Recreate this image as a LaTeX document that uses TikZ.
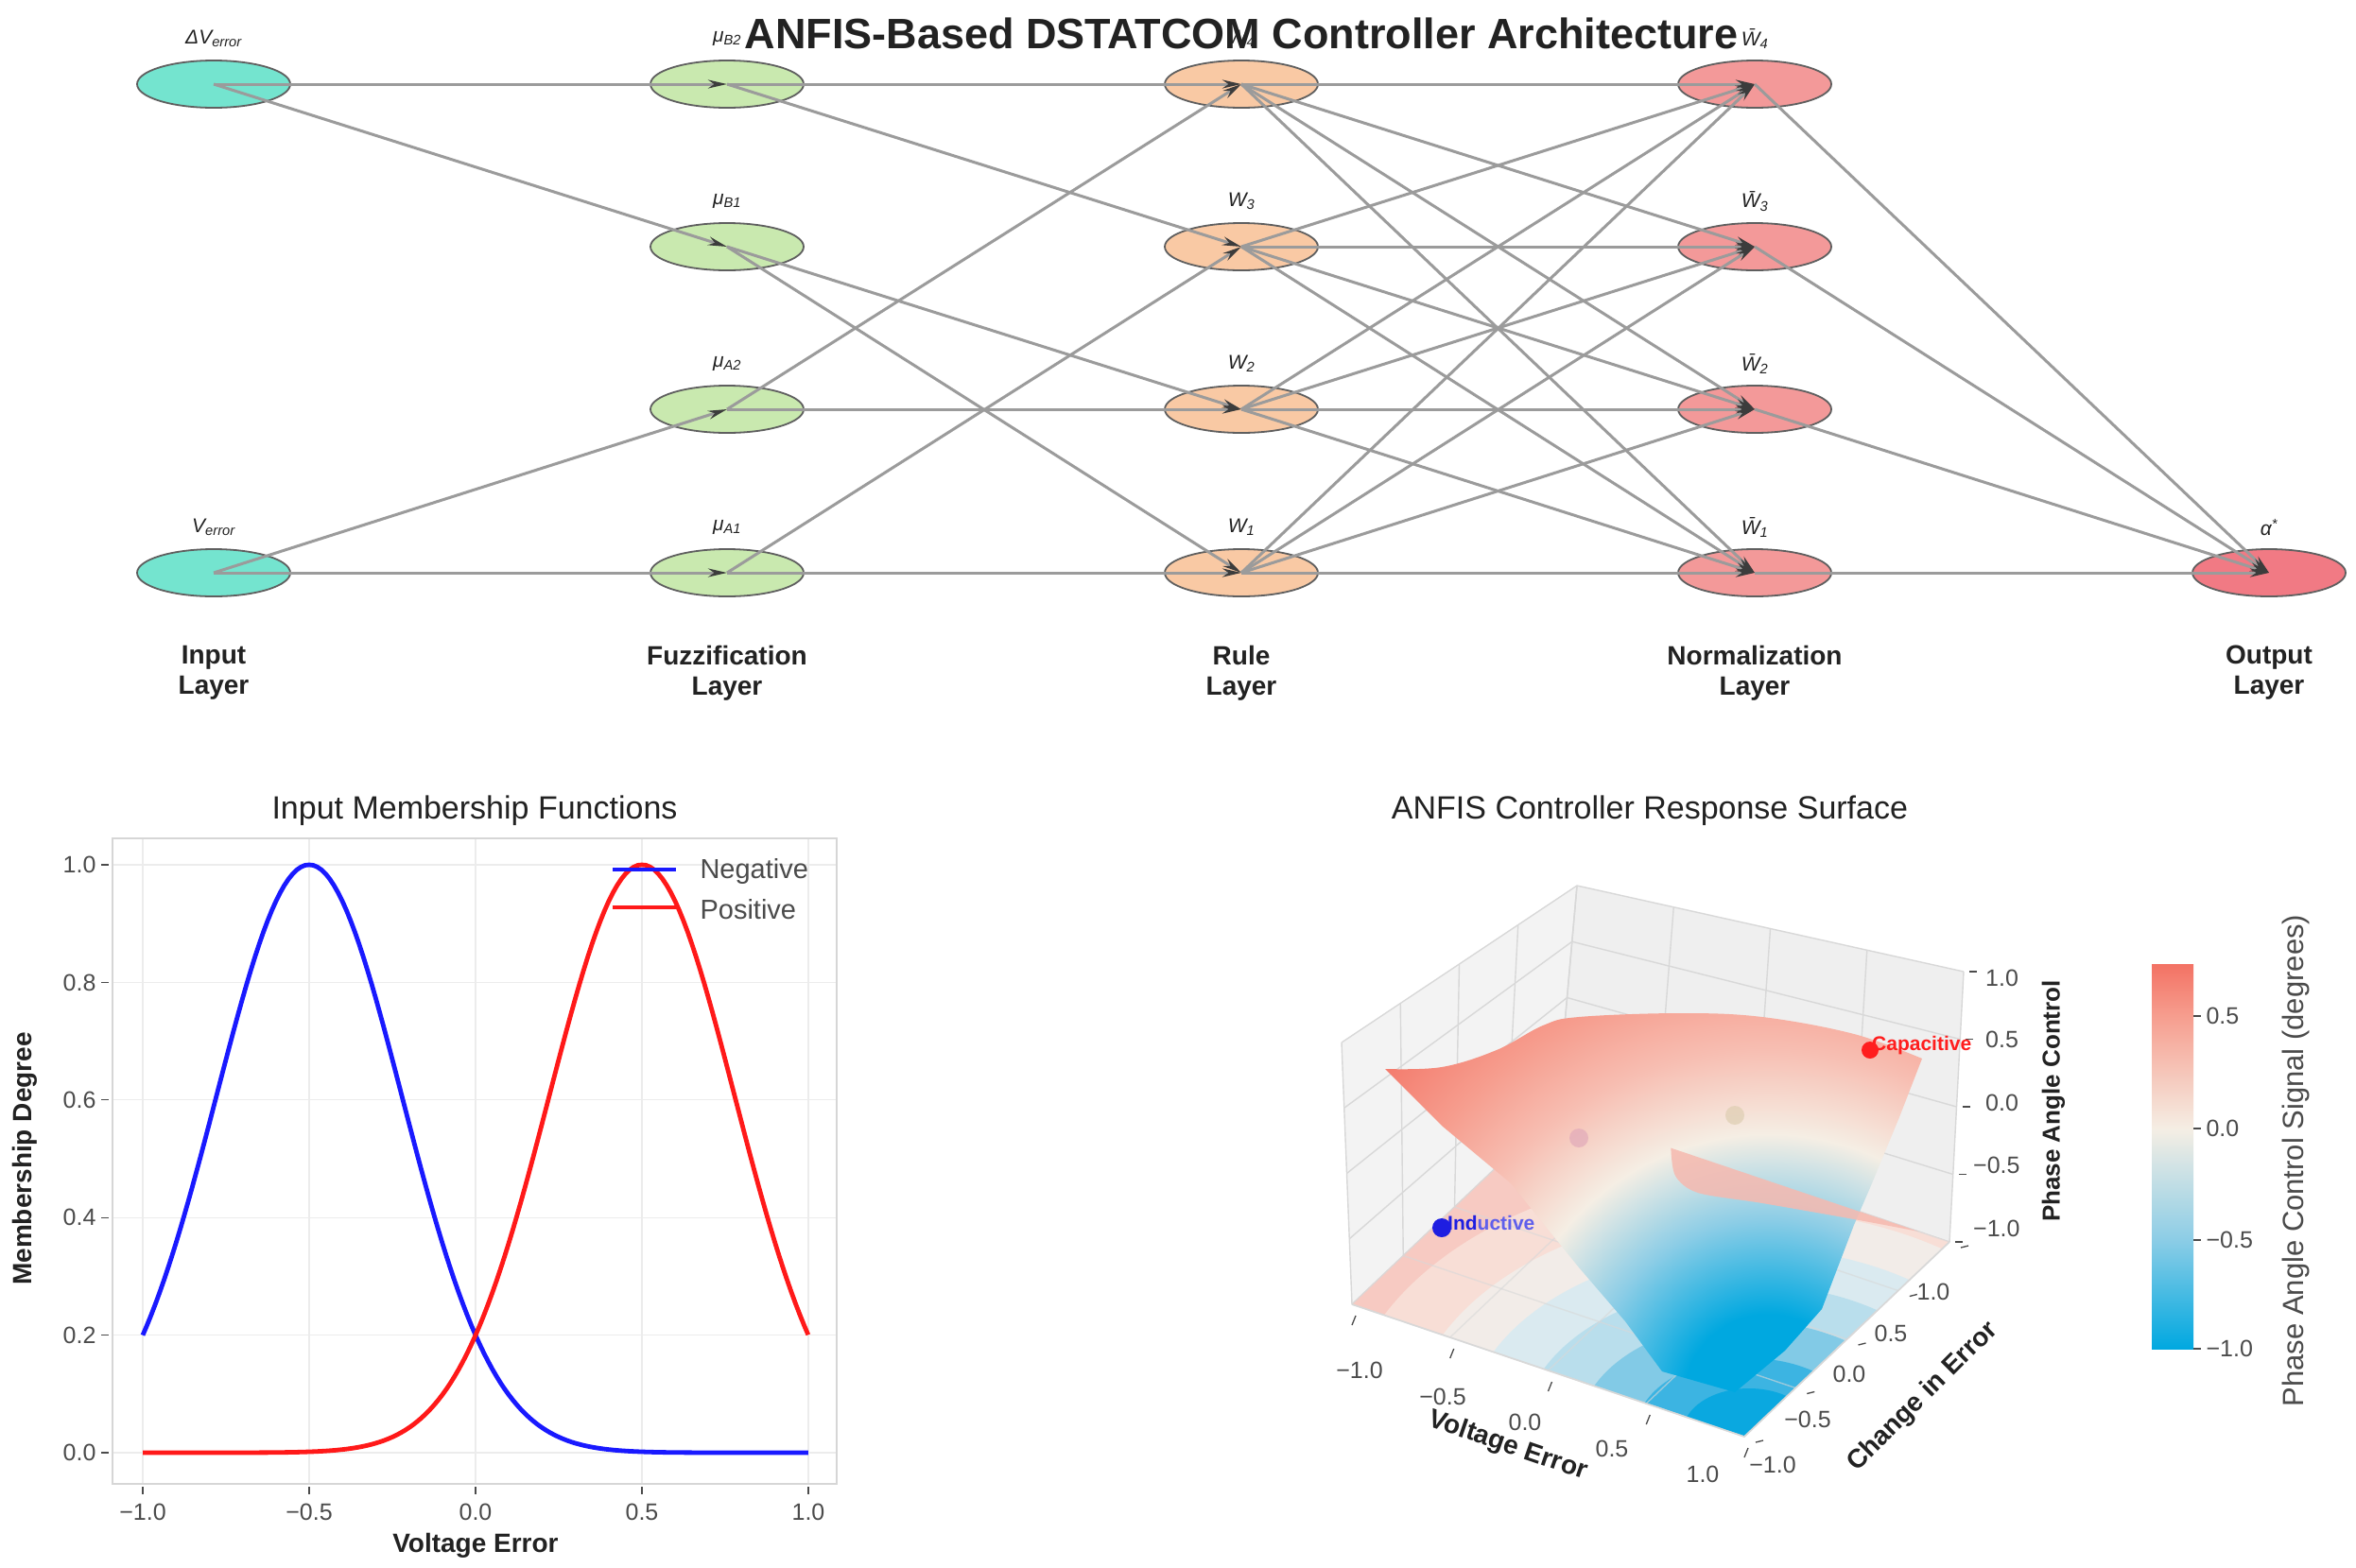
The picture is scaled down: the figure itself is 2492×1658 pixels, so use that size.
\documentclass[tikz,border=0pt]{standalone}
\usepackage{fontspec}
\setmainfont{Liberation Sans}
\usetikzlibrary{arrows.meta,calc,shapes.geometric}

\definecolor{inC}{RGB}{92,224,199}
\definecolor{fzC}{RGB}{192,230,161}
\definecolor{ruC}{RGB}{249,192,149}
\definecolor{noC}{RGB}{242,136,136}
\definecolor{ouC}{RGB}{239,99,111}
\definecolor{edgeC}{RGB}{155,155,155}
\definecolor{tipC}{RGB}{60,60,60}
\definecolor{ndBorder}{RGB}{95,95,95}
\definecolor{txtD}{RGB}{34,34,34}
\definecolor{txtG}{RGB}{75,75,75}
\definecolor{gridL}{RGB}{236,236,236}
\definecolor{frameL}{RGB}{214,214,214}
\definecolor{mfBlue}{RGB}{25,25,255}
\definecolor{mfRed}{RGB}{255,25,25}
\definecolor{paneA}{RGB}{243,243,243}
\definecolor{paneB}{RGB}{239,239,239}
\definecolor{paneC}{RGB}{236,236,236}
\definecolor{paneGrid}{RGB}{216,216,216}
\definecolor{cmB}{RGB}{0,168,224}
\definecolor{cmLB}{RGB}{140,205,230}
\definecolor{cmC}{RGB}{245,238,228}
\definecolor{cmP}{RGB}{247,190,178}
\definecolor{cmS}{RGB}{246,157,142}
\definecolor{cmR}{RGB}{243,114,100}
\definecolor{flBase}{RGB}{247,202,194}
\definecolor{flA}{RGB}{248,222,214}
\definecolor{flB}{RGB}{242,236,232}
\definecolor{flC}{RGB}{218,234,240}
\definecolor{flD}{RGB}{185,222,236}
\definecolor{flE}{RGB}{130,202,230}
\definecolor{flF}{RGB}{60,180,226}
\definecolor{flG}{RGB}{10,168,224}
\definecolor{tongueC}{RGB}{246,185,175}
\definecolor{dotA}{RGB}{226,170,186}
\definecolor{dotB}{RGB}{222,206,178}
\definecolor{indC}{RGB}{30,30,225}
\definecolor{indL}{RGB}{95,95,235}
\definecolor{capC}{RGB}{255,30,30}

\pgfdeclareradialshading{surfsh}{\pgfpoint{0bp}{0bp}}{color(0bp)=(cmB); color(4bp)=(cmB); color(8.5bp)=(cmLB); color(12.5bp)=(cmC); color(16.5bp)=(cmP); color(20bp)=(cmS); color(25bp)=(cmR); color(50bp)=(cmR)}
\pgfdeclareverticalshading{cbarsh}{100bp}{color(0bp)=(cmB); color(25bp)=(cmB); color(39.2bp)=(cmLB); color(53.6bp)=(cmC); color(68.3bp)=(cmS); color(75bp)=(cmR); color(100bp)=(cmR)}

\tikzset{
  nd/.style={ellipse, minimum width=162pt, minimum height=50pt, inner sep=0pt, draw=ndBorder, line width=1.8pt, fill opacity=0.85},
  ed/.style={draw=edgeC, line width=3pt, -{Stealth[length=20pt,width=9pt,color=tipC]}},
  nlab/.style={font=\fontsize{21}{24}\selectfont\itshape, text=txtD},
  layerlab/.style={font=\fontsize{28}{32}\selectfont\bfseries, text=txtD, align=center},
  tick/.style={font=\fontsize{25}{28}\selectfont, text=txtG},
  axlab/.style={font=\fontsize{28}{32}\selectfont\bfseries, text=txtD},
  ptitle/.style={font=\fontsize{34}{38}\selectfont, text=txtD},
  pgrid/.style={draw=paneGrid, line width=1.4pt},
  tmark/.style={draw=txtG, line width=1.3pt},
}

\begin{document}
\begin{tikzpicture}[x=1pt,y=-1pt]
\useasboundingbox (0,0) rectangle (2492,1658);
\fill[white] (0,0) rectangle (2492,1658);

% ================= ANFIS network =================
\node[nd, fill=inC] (i1) at (226,89) {};
\node[nd, fill=inC] (i2) at (226,606) {};
\node[nd, fill=fzC] (f1) at (769,89) {};
\node[nd, fill=fzC] (f2) at (769,261) {};
\node[nd, fill=fzC] (f3) at (769,433) {};
\node[nd, fill=fzC] (f4) at (769,606) {};
\node[nd, fill=ruC] (r1) at (1313,89) {};
\node[nd, fill=ruC] (r2) at (1313,261) {};
\node[nd, fill=ruC] (r3) at (1313,433) {};
\node[nd, fill=ruC] (r4) at (1313,606) {};
\node[nd, fill=noC] (n1) at (1856,89) {};
\node[nd, fill=noC] (n2) at (1856,261) {};
\node[nd, fill=noC] (n3) at (1856,433) {};
\node[nd, fill=noC] (n4) at (1856,606) {};
\node[nd, fill=ouC] (o1) at (2400,606) {};

\foreach \sa/\ta in {i1/f1,i1/f2,i2/f3,i2/f4,f1/r1,f1/r2,f2/r3,f2/r4,f3/r1,f3/r3,f4/r2,f4/r4}
  \draw[ed] (\sa.center) -- (\ta.center);
\foreach \sa in {r1,r2,r3,r4}
  \foreach \ta in {n1,n2,n3,n4}
    \draw[ed] (\sa.center) -- (\ta.center);
\foreach \sa in {n1,n2,n3,n4}
  \draw[ed] (\sa.center) -- (o1.center);

\node[nlab] (i1l) at (226,41) {ΔV\textsubscript{error}};
\node[nlab] (i2l) at (226,558) {V\textsubscript{error}};
\node[nlab] (f1l) at (769,41) {μ\textsubscript{B2}};
\node[nlab] (f2l) at (769,213) {μ\textsubscript{B1}};
\node[nlab] (f3l) at (769,385) {μ\textsubscript{A2}};
\node[nlab] (f4l) at (769,558) {μ\textsubscript{A1}};
\node[nlab] (r1l) at (1313,41) {W\textsubscript{4}};
\node[nlab] (r2l) at (1313,213) {W\textsubscript{3}};
\node[nlab] (r3l) at (1313,385) {W\textsubscript{2}};
\node[nlab] (r4l) at (1313,558) {W\textsubscript{1}};
\node[nlab] (n1l) at (1856,41) {\={W}\textsubscript{4}};
\node[nlab] (n2l) at (1856,213) {\={W}\textsubscript{3}};
\node[nlab] (n3l) at (1856,385) {\={W}\textsubscript{2}};
\node[nlab] (n4l) at (1856,558) {\={W}\textsubscript{1}};
\node[nlab] (o1l) at (2400,558) {α\textsuperscript{*}};

\node[font=\fontsize{45}{50}\selectfont\bfseries, text=txtD] (title) at (1313,35) {ANFIS-Based DSTATCOM Controller Architecture};

\node[layerlab] (ll1) at (226,712) {Input\\Layer};
\node[layerlab] (ll2) at (769,712) {Fuzzification\\Layer};
\node[layerlab] (ll3) at (1313,712) {Rule\\Layer};
\node[layerlab] (ll4) at (1856,712) {Normalization\\Layer};
\node[layerlab] (ll5) at (2400,712) {Output\\Layer};

% ================= Membership functions plot =================
\foreach \xx in {151,327,503,679,855}
  \draw[draw=gridL, line width=1.3pt] (\xx,887) -- (\xx,1570);
\foreach \yy in {915,1039.4,1163.8,1288.2,1412.6,1537}
  \draw[draw=gridL, line width=1.3pt] (119,\yy) -- (885,\yy);
\draw[draw=frameL, line width=1.6pt] (119,887) rectangle (885,1570);
\foreach \yy/\lb [count=\k] in {1537/0.0,1412.6/0.2,1288.2/0.4,1163.8/0.6,1039.4/0.8,915/1.0}{
  \draw[tmark] (107,\yy) -- (115,\yy);
  \node[tick, anchor=east] (myt\k) at (105,\yy) {\lb};
}
\foreach \xx/\lb [count=\k] in {151/−1.0,327/−0.5,503/0.0,679/0.5,855/1.0}{
  \draw[tmark] (\xx,1573) -- (\xx,1581);
  \node[tick] (mxt\k) at (\xx,1600) {\lb};
}
\draw[draw=mfBlue, line width=4.8pt, line join=round] plot[domain=-1:1, samples=161] ({503+352*\x}, {1537-622*exp(-((\x+0.5)*(\x+0.5))/0.1553)});
\draw[draw=mfRed, line width=4.8pt, line join=round] plot[domain=-1:1, samples=161] ({503+352*\x}, {1537-622*exp(-((\x-0.5)*(\x-0.5))/0.1553)});
\coordinate (lgA1) at (648,920); \coordinate (lgA2) at (715,920);
\coordinate (lgB1) at (648,960); \coordinate (lgB2) at (715,960);
\draw[draw=mfBlue, line width=4.5pt] (lgA1) -- (lgA2);
\draw[draw=mfRed, line width=4.5pt] (lgB1) -- (lgB2);
\node[font=\fontsize{29}{32}\selectfont, text=txtG, anchor=west] (lgneg) at (737,922) {Negative};
\node[font=\fontsize{29}{32}\selectfont, text=txtG, anchor=west] (lgpos) at (737,962) {Positive};
\node[ptitle] (mftitle) at (502,858) {Input Membership Functions};
\node[axlab] (mfxl) at (503,1635) {Voltage Error};
\node[axlab, rotate=90] (mfyl) at (26,1226) {Membership Degree};

% ================= 3D response surface =================
\coordinate (L) at (1430,1380);
\coordinate (F) at (1845,1520);
\coordinate (R) at (2062,1314);
\coordinate (B) at (1647,1174);
\coordinate (Lt) at (1419,1103);
\coordinate (Bt) at (1668,937);
\coordinate (Rt) at (2077,1028);

\fill[paneA] (L) -- (B) -- (Bt) -- (Lt) -- cycle;
\fill[paneB] (B) -- (R) -- (Rt) -- (Bt) -- cycle;
\fill[paneC] (L) -- (F) -- (R) -- (B) -- cycle;
\foreach \tt in {0,0.25,0.5,0.75,1}{
  \draw[pgrid] ($(L)!\tt!(B)$) -- ($(Lt)!\tt!(Bt)$);
  \draw[pgrid] ($(L)!\tt!(Lt)$) -- ($(B)!\tt!(Bt)$);
  \draw[pgrid] ($(B)!\tt!(R)$) -- ($(Bt)!\tt!(Rt)$);
  \draw[pgrid] ($(B)!\tt!(Bt)$) -- ($(R)!\tt!(Rt)$);
}
% floor contours
\begin{scope}
  \clip (L) -- (F) -- (R) -- (B) -- cycle;
  \fill[flBase] (L) -- (F) -- (R) -- (B) -- cycle;
  \fill[flA] (1850,1515) ellipse[x radius=430pt, y radius=280pt];
  \fill[flB] (1850,1515) ellipse[x radius=360pt, y radius=235pt];
  \fill[flC] (1850,1515) ellipse[x radius=300pt, y radius=195pt];
  \fill[flD] (1850,1515) ellipse[x radius=240pt, y radius=156pt];
  \fill[flE] (1850,1515) ellipse[x radius=180pt, y radius=117pt];
  \fill[flF] (1850,1515) ellipse[x radius=120pt, y radius=78pt];
  \fill[flG] (1850,1515) ellipse[x radius=70pt, y radius=46pt];
\end{scope}
\foreach \tt in {0,0.25,0.5,0.75,1}{
  \draw[pgrid, draw opacity=0.6] ($(L)!\tt!(F)$) -- ($(B)!\tt!(R)$);
  \draw[pgrid, draw opacity=0.6] ($(L)!\tt!(B)$) -- ($(F)!\tt!(R)$);
}
\draw[draw=paneGrid, line width=1.6pt] (L) -- (F) -- (R);

% surface
\begin{scope}
  \clip plot[smooth, tension=0.6] coordinates {(1465,1131) (1525,1129) (1583,1111) (1632,1085) (1670,1076) (1777,1072) (1864,1076) (1961,1094) (2033,1120)}
     -- (2009,1182) -- (1980,1252) -- (1961,1296) -- (1927,1385) -- (1888,1429) -- (1835,1473)
     -- (1758,1451) -- (1719,1398) -- (1670,1341) -- (1598,1252) -- (1525,1191) -- cycle;
  \shade[shading=surfsh] (1870,1480) circle[radius=560pt];
\end{scope}

% floor contour tongue seen over the surface
\coordinate (tgA) at ($(B)!0.29!(R)$);
\coordinate (tgB) at ($(B)!0.92!(R)$);
\fill[tongueC, fill opacity=0.85] plot[smooth] coordinates {(tgB) (1961,1290) (1864,1273) (1796,1262) (1772,1244) (tgA)} -- cycle;

% faint scatter points
\fill[dotA, fill opacity=0.7] (1670,1204) circle[radius=10pt];
\fill[dotB, fill opacity=0.7] (1835,1180) circle[radius=10pt];

% ticks of 3D axes
\foreach \tt in {0,0.25,0.5,0.75,1}{
  \draw[tmark] ($(L)!\tt!(F)$) ++(4,12) -- ++(-4,10);
  \draw[tmark] ($(F)!\tt!(R)$) ++(12,6) -- ++(8,-2);
  \draw[tmark] ($(R)!\tt!(Rt)$) ++(6,0) -- ++(8,0);
}
\foreach \xx/\yy/\lb [count=\k] in {1438/1450/−1.0,1526/1478/−0.5,1613/1505/0.0,1705/1533/0.5,1801/1560/1.0}
  \node[tick] (sxt\k) at (\xx,\yy) {\lb};
\foreach \xx/\yy/\lb [count=\k] in {2045/1367/1.0,2000/1411/0.5,1956/1454/0.0,1912/1502/−0.5,1875/1550/−1.0}
  \node[tick] (syt\k) at (\xx,\yy) {\lb};
\foreach \xx/\yy/\lb [count=\k] in {2099/1035/1.0,2099/1100/0.5,2099/1167/0.0,2086/1233/−0.5,2086/1300/−1.0}
  \node[tick, anchor=west, inner sep=1pt] (szt\k) at (\xx,\yy) {\lb};

\node[axlab, rotate=-19] (sxl) at (1595,1530) {Voltage Error};
\node[axlab, rotate=45] (syl) at (2034,1478) {Change in Error};
\node[axlab, rotate=90, font=\fontsize{26}{30}\selectfont\bfseries] (szl) at (2172,1165) {Phase Angle Control};

% annotations
\fill[indC] (1525,1299) circle[radius=10pt];
\node[font=\fontsize{21}{24}\selectfont\bfseries, anchor=west, inner sep=0pt] (indt) at (1531,1294) {\textcolor{indC}{Ind}\textcolor{indL}{uctive}};
\fill[capC] (1978,1111) circle[radius=9pt];
\node[font=\fontsize{21}{24}\selectfont\bfseries, text=capC, anchor=west, inner sep=0pt] (capt) at (1980,1106) {Capacitive};

\node[ptitle] (sftitle) at (1745,858) {ANFIS Controller Response Surface};

% colorbar
\shade[shading=cbarsh] (2276,1020) rectangle (2320,1427);
\foreach \yy/\lb [count=\k] in {1075/0.5,1194/0.0,1312/−0.5,1427/−1.0}{
  \draw[tmark] (2320,\yy) -- (2328,\yy);
  \node[tick, anchor=west] (cbt\k) at (2330,\yy) {\lb};
}
\node[font=\fontsize{31}{34}\selectfont, text=txtG, rotate=90] (cbl) at (2428,1228) {Phase Angle Control Signal (degrees)};
\end{tikzpicture}
\end{document}
